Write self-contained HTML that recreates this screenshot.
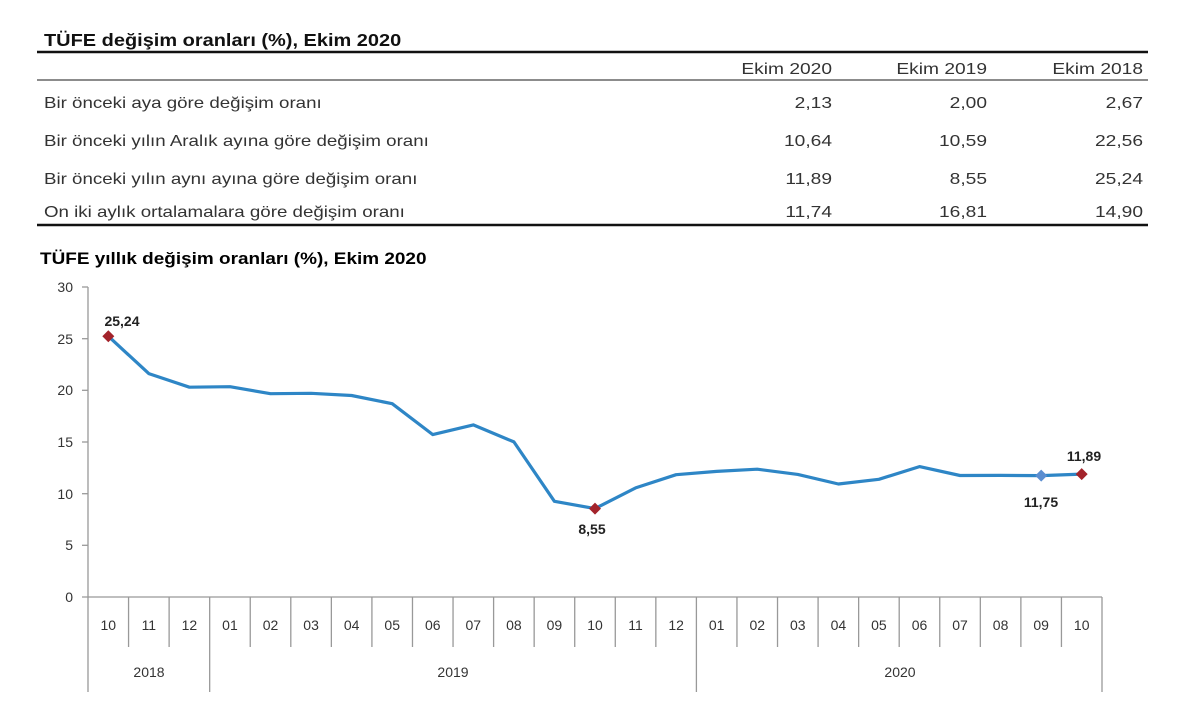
<!DOCTYPE html>
<html><head><meta charset="utf-8"><style>
html,body{margin:0;padding:0;background:#fff;}
svg text{font-family:"Liberation Sans",Arial,sans-serif;}
</style></head><body>
<svg width="1200" height="712" viewBox="0 0 1200 712" xmlns="http://www.w3.org/2000/svg">
<rect width="1200" height="712" fill="#fff"/>
<g transform="matrix(1.11,0,0,1,-4.84,0)"><text x="44" y="46" font-size="18" font-weight="bold" fill="#111">TÜFE değişim oranları (%), Ekim 2020</text></g>
<line x1="37" y1="52" x2="1148" y2="52" stroke="#111" stroke-width="2.5"/>
<g font-size="16" fill="#333" text-anchor="end">
<g transform="matrix(1.2,0,0,1,-166.4,0)"><text x="832" y="74">Ekim 2020</text><text x="832" y="108">2,13</text><text x="832" y="146">10,64</text><text x="832" y="184">11,89</text><text x="832" y="217">11,74</text></g>
<g transform="matrix(1.2,0,0,1,-197.4,0)"><text x="987" y="74">Ekim 2019</text><text x="987" y="108">2,00</text><text x="987" y="146">10,59</text><text x="987" y="184">8,55</text><text x="987" y="217">16,81</text></g>
<g transform="matrix(1.2,0,0,1,-228.6,0)"><text x="1143" y="74">Ekim 2018</text><text x="1143" y="108">2,67</text><text x="1143" y="146">22,56</text><text x="1143" y="184">25,24</text><text x="1143" y="217">14,90</text></g>
</g>
<line x1="37" y1="80" x2="1148" y2="80" stroke="#666" stroke-width="1.5"/>
<g font-size="16" fill="#333" transform="matrix(1.17,0,0,1,-7.48,0)">
<text x="44" y="108">Bir önceki aya göre değişim oranı</text>
<text x="44" y="146">Bir önceki yılın Aralık ayına göre değişim oranı</text>
<text x="44" y="184">Bir önceki yılın aynı ayına göre değişim oranı</text>
<text x="44" y="217">On iki aylık ortalamalara göre değişim oranı</text>
</g>
<line x1="37" y1="225" x2="1148" y2="225" stroke="#111" stroke-width="2.5"/>
<g transform="matrix(1.115,0,0,1,-4.6,0)"><text x="40" y="264" font-size="17" font-weight="bold" fill="#000">TÜFE yıllık değişim oranları (%), Ekim 2020</text></g>

<line x1="88" y1="287" x2="88" y2="692" stroke="#999" stroke-width="1.3"/>
<line x1="82" y1="597" x2="1102" y2="597" stroke="#999" stroke-width="1.3"/>
<g stroke="#999" stroke-width="1.3">
<line x1="82" y1="287" x2="88" y2="287"/><line x1="82" y1="338.7" x2="88" y2="338.7"/>
<line x1="82" y1="390.3" x2="88" y2="390.3"/><line x1="82" y1="442" x2="88" y2="442"/>
<line x1="82" y1="493.7" x2="88" y2="493.7"/><line x1="82" y1="545.3" x2="88" y2="545.3"/>
</g>
<g font-size="14" fill="#333" text-anchor="end">
<text x="73" y="292">30</text><text x="73" y="344">25</text><text x="73" y="395">20</text>
<text x="73" y="447">15</text><text x="73" y="499">10</text><text x="73" y="550">5</text><text x="73" y="602">0</text>
</g>
<g stroke="#999" stroke-width="1.3" id="ticks"></g>
<g font-size="14" fill="#333" text-anchor="middle" id="mlabels"></g>
<g font-size="14" fill="#333" text-anchor="middle">
<text x="149" y="677">2018</text><text x="453" y="677">2019</text><text x="900" y="677">2020</text>
</g>
<polyline id="ln" fill="none" stroke="#2e86c6" stroke-width="3.2" stroke-linejoin="round"/>
<g id="mk"></g>
<g font-size="14" font-weight="bold" fill="#222" text-anchor="middle">
<text x="122" y="326">25,24</text>
<text x="592" y="534">8,55</text>
<text x="1041" y="507">11,75</text>
<text x="1084" y="461">11,89</text>
</g>
</svg>
<script>
var d=[25.24,21.62,20.30,20.35,19.67,19.71,19.50,18.71,15.72,16.65,15.01,9.26,8.55,10.56,11.84,12.15,12.37,11.86,10.94,11.39,12.62,11.76,11.77,11.75,11.89];
var m=["10","11","12","01","02","03","04","05","06","07","08","09","10","11","12","01","02","03","04","05","06","07","08","09","10"];
var ns="http://www.w3.org/2000/svg",w=(1102-88)/25;
var pts=[],t=document.getElementById("ticks"),ml=document.getElementById("mlabels");
for(var i=0;i<25;i++){
 var x=88+w*(i+0.5),y=597-d[i]*310/30;pts.push(x.toFixed(1)+","+y.toFixed(1));
 var tx=document.createElementNS(ns,"text");tx.setAttribute("x",x);tx.setAttribute("y",630);tx.textContent=m[i];ml.appendChild(tx);
}
for(var i=1;i<=25;i++){
 var x=88+w*i,l=document.createElementNS(ns,"line");
 var big=(i==3||i==15||i==25);
 l.setAttribute("x1",x);l.setAttribute("x2",x);l.setAttribute("y1",597);l.setAttribute("y2",big?692:647);t.appendChild(l);
}
document.getElementById("ln").setAttribute("points",pts.join(" "));
var mk=document.getElementById("mk");
[[0,"#a3232b"],[12,"#a3232b"],[23,"#5b8ed0"],[24,"#a3232b"]].forEach(function(a){
 var p=pts[a[0]].split(","),x=+p[0],y=+p[1],s=6;
 var pg=document.createElementNS(ns,"polygon");
 pg.setAttribute("points",x+","+(y-s)+" "+(x+s)+","+y+" "+x+","+(y+s)+" "+(x-s)+","+y);
 pg.setAttribute("fill",a[1]);mk.appendChild(pg);
});
</script>
</body></html>
